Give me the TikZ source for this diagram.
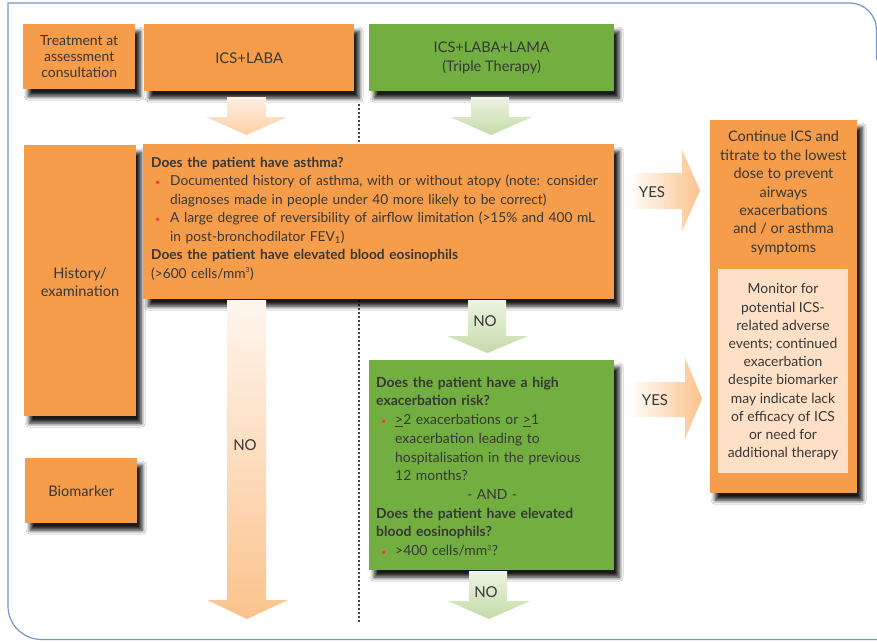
\documentclass[tikz,border=0pt]{standalone}
\usepackage{fontspec}
\setmainfont{Lato}
\usetikzlibrary{shadows,shadows.blur}
\definecolor{orng}{RGB}{245,157,74}
\definecolor{grn}{RGB}{115,174,65}
\definecolor{peach}{RGB}{253,224,197}
\definecolor{txt}{RGB}{55,55,55}
\definecolor{bred}{RGB}{235,60,70}
\definecolor{framec}{RGB}{112,152,200}
\definecolor{arrowor}{RGB}{251,195,140}
\definecolor{arroworl}{RGB}{254,240,228}
\definecolor{arrowgr}{RGB}{196,220,168}
\definecolor{arrowgrl}{RGB}{236,243,226}
\newcommand{\bitem}[2][4pt]{\par\hangindent=19pt\hangafter=1\noindent\makebox[19pt][l]{\hspace{#1}\textcolor{bred}{\small\textbullet}}#2\par}
\tikzset{
 box/.style={draw=none, anchor=north west, inner sep=0pt, text=txt, align=center,
   blur shadow={shadow xshift=5pt, shadow yshift=-7pt, shadow blur steps=6, shadow blur radius=4pt, shadow opacity=90}},
 obox/.style={box, fill=orng},
 gbox/.style={box, fill=grn},
 lbl/.style={text=txt, align=center, inner sep=0pt},
 para/.style={text=txt, align=left, inner sep=0pt, anchor=west},
 dots/.style={line width=2.3pt, line cap=round, dash pattern=on 0pt off 4pt},
 frameline/.style={draw=framec, line width=1.2pt},
 dnor/.style={top color=arroworl, bottom color=arrowor!80},
 dngr/.style={top color=arrowgrl, bottom color=arrowgr},
 rtor/.style={left color=white, right color=arrowor},
 alabel/.style={text=txt, inner sep=0pt, font=\fontsize{15}{16}\selectfont},
}
\begin{document}
\begin{tikzpicture}[x=1pt,y=-1pt]
\useasboundingbox (0,0) rectangle (877,641);
\fill[white] (0,0) rectangle (877,641);
% frame
\draw[frameline] (876.5,60) -- (876.5,30) .. controls (876.5,15) and (864.5,3) .. (849.5,3) -- (8,3) -- (8,606) .. controls (8,624.8) and (23.2,639.5) .. (42,639.5) -- (877,639.5);
% dotted separator
\coordinate (dtop) at (359,105);
\coordinate (dbot) at (359,622);
\draw[dots] (dtop) -- (dbot);

% boxes
\node[obox, minimum width=112pt, minimum height=65pt, font=\fontsize{14}{16}\selectfont] (treat) at (23,24) {Treatment at\\assessment\\consultation};
\node[obox, minimum width=210pt, minimum height=67pt, font=\fontsize{14.8}{18}\selectfont] (ics) at (144,24) {ICS+LABA};
\node[gbox, minimum width=245pt, minimum height=67pt, font=\fontsize{14.6}{19}\selectfont] (triple) at (369,24) {ICS+LABA+LAMA\\(Triple Therapy)};
\node[obox, minimum width=112pt, minimum height=271pt] (hist) at (24,145) {};
\node[lbl, font=\fontsize{14.6}{18}\selectfont] (histT) at (80,282) {History/\\examination};
\node[obox, minimum width=471pt, minimum height=155pt] (quest) at (143,144) {};
\node[obox, minimum width=112pt, minimum height=65pt, font=\fontsize{14.6}{18}\selectfont] (bio) at (25,458) {Biomarker};
\node[gbox, minimum width=245pt, minimum height=210pt] (green) at (369,360) {};
\node[obox, minimum width=147pt, minimum height=373pt] (cont) at (710,120) {};
\node[fill=peach, anchor=north west, minimum width=130pt, minimum height=204pt, inner sep=0pt] (mon) at (718,269) {};

% texts
\node[para, text width=470pt, font=\fontsize{13.7}{18.5}\selectfont] (questT) at (151,218.5) {%
{\bfseries Does the patient have asthma?}\par
\bitem{Documented history of asthma, with or without atopy (note: consider\newline diagnoses made in people under 40 more likely to be correct)}
\bitem{A large degree of reversibility of airflow limitation (>15\% and 400 mL\newline in post-bronchodilator FEV\textsubscript{1})}
{\bfseries Does the patient have elevated blood eosinophils}\par
(>600 cells/mm\textsuperscript{\scriptsize 3})};

\node[para, text width=232pt, font=\fontsize{13.9}{18.7}\selectfont] (greenT) at (376,466.5) {%
{\bfseries Does the patient have a high\\exacerbation risk?}\par
\bitem[5pt]{\underline{>}2 exacerbations or \underline{>}1\newline exacerbation leading to\newline hospitalisation in the previous\newline 12 months?}
{\centering - AND -\par}
{\bfseries Does the patient have elevated\\blood eosinophils?}\par
\bitem[5pt]{>400 cells/mm\textsuperscript{\scriptsize 3}?}};

\node[lbl, font=\fontsize{14.5}{18.4}\selectfont] (contT) at (783.5,193) {Continue ICS and\\titrate to the lowest\\dose to prevent\\airways\\exacerbations\\and / or asthma\\symptoms};
\node[lbl, font=\fontsize{13.9}{18.2}\selectfont] (monT) at (783,372) {Monitor for\\potential ICS-\\related adverse\\events; continued\\exacerbation\\despite biomarker\\may indicate lack\\of efficacy of ICS\\or need for\\additional therapy};

% block arrows
\shade[dnor] (227,97) -- (266,97) -- (266,117) -- (287,117) -- (246.5,135) -- (206,117) -- (227,117) -- cycle;
\shade[dngr] (471,97) -- (509,97) -- (509,117) -- (532,117) -- (491,135) -- (450,117) -- (471,117) -- cycle;
\shade[top color=arroworl!60, bottom color=arrowor] (227,300) -- (266,300) -- (266,600) -- (288,600) -- (247,619) -- (207,600) -- (227,600) -- cycle;
\shade[dngr] (468,300) -- (506,300) -- (506,336) -- (528,336) -- (487.5,353) -- (447,336) -- (468,336) -- cycle;
\shade[dngr] (469,571) -- (507,571) -- (507,601) -- (530,601) -- (489,619) -- (448,601) -- (469,601) -- cycle;
\shade[rtor] (628,173) -- (682,173) -- (682,150) -- (700,190.5) -- (682,231) -- (682,209) -- (628,209) -- cycle;
\shade[rtor] (628,382) -- (685,382) -- (685,358) -- (702,398.5) -- (685,439) -- (685,417) -- (628,417) -- cycle;

% arrow labels
\node[alabel] (no1) at (245,445) {NO};
\node[alabel] (no2) at (485,321) {NO};
\node[alabel] (no3) at (486,592) {NO};
\node[alabel] (yes1) at (652,192) {YES};
\node[alabel] (yes2) at (655,400) {YES};
\end{tikzpicture}
\end{document}
